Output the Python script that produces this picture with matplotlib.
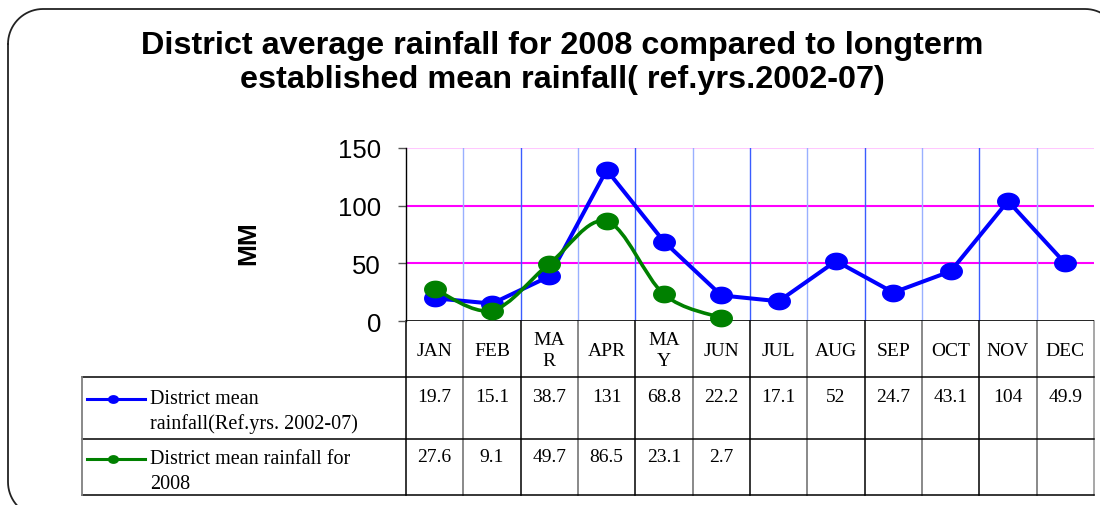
import numpy as np
import matplotlib
matplotlib.use("Agg")
import matplotlib.pyplot as plt
from matplotlib.path import Path
from matplotlib.patches import PathPatch
from matplotlib.transforms import blended_transform_factory
from matplotlib.lines import Line2D

months = ["JAN", "FEB", "MA\nR", "APR", "MA\nY", "JUN", "JUL", "AUG", "SEP", "OCT", "NOV", "DEC"]
ref_mean = [19.7, 15.1, 38.7, 131, 68.8, 22.2, 17.1, 52, 24.7, 43.1, 104, 49.9]
ref_labels = ["19.7", "15.1", "38.7", "131", "68.8", "22.2", "17.1", "52", "24.7", "43.1", "104", "49.9"]
y2008 = [27.6, 9.1, 49.7, 86.5, 23.1, 2.7]
y2008_labels = ["27.6", "9.1", "49.7", "86.5", "23.1", "2.7"]
series_names = ["District mean\nrainfall(Ref.yrs. 2002-07)", "District mean rainfall for\n2008"]
yticks = [0, 50, 100, 150]
title = "District average rainfall for 2008 compared to longterm\nestablished mean rainfall( ref.yrs.2002-07)"

W, H = 1100, 506
fig = plt.figure(figsize=(W / 100, H / 100), dpi=100)

# overlay axes in pixel coordinates
ov = fig.add_axes([0, 0, 1, 1])
ov.set_xlim(0, W)
ov.set_ylim(H, 0)
ov.axis("off")

# main plot axes: x 406..1094, y 149..322 (px)
x0, x1, ytop, ybot = 406, 1094, 149, 322
ax = fig.add_axes([x0 / W, 1 - ybot / H, (x1 - x0) / W, (ybot - ytop) / H])
ax.set_xlim(0, 12)
ax.set_ylim(0, 150)
ax.patch.set_alpha(0)
for s in ["top", "right", "bottom"]:
    ax.spines[s].set_visible(False)
ax.spines["left"].set_color("black")
ax.spines["left"].set_linewidth(1.0)
ax.set_xticks([])
ax.set_yticks(yticks)
ax.set_yticklabels([str(v) for v in yticks], fontfamily="Liberation Sans", fontsize=18.5)
ax.tick_params(axis="y", length=6, width=1, color="#555555", pad=12)

# grid
for v in [50, 100]:
    ax.axhline(v, color="#ff00ff", lw=1.5, zorder=1)
ax.axhline(150, color="#ffc8ff", lw=1.5, zorder=1)
for i in range(1, 12):
    ax.axvline(i, color="#99b0ff" if i % 2 == 1 else "#3a5cff", lw=1.0, zorder=1)
ax.axhline(0, color="black", lw=1.2, zorder=2)

# elliptical marker
t = np.linspace(0, 2 * np.pi, 60)
ell = Path(np.column_stack([np.cos(t), 0.76 * np.sin(t)]), closed=True)

xs = np.arange(len(ref_mean)) + 0.5
ax.plot(xs, ref_mean, color="#0000ff", lw=2.9, marker=ell, ms=15.5, zorder=4, clip_on=False)

# smoothed green line (Bezier, Excel-like)
gx = np.arange(len(y2008)) + 0.5
gy = np.array(y2008, dtype=float)
pts = np.column_stack([gx, gy])
verts = [pts[0]]
codes = [Path.MOVETO]
n = len(pts)
for i in range(n - 1):
    p0 = pts[i - 1] if i > 0 else pts[i]
    p1 = pts[i]
    p2 = pts[i + 1]
    p3 = pts[i + 2] if i + 2 < n else pts[i + 1]
    c1 = p1 + (p2 - p0) / 6.0
    c2 = p2 - (p3 - p1) / 6.0
    verts += [c1, c2, p2]
    codes += [Path.CURVE4] * 3
ax.add_patch(PathPatch(Path(verts, codes), fill=False, edgecolor="#008000", lw=2.6, zorder=5, clip_on=False))
ax.plot(gx, gy, ls="none", color="#008000", marker=ell, ms=15.5, zorder=6, clip_on=False)

# y label
ov.text(248, 243, "MM", rotation=90, ha="center", va="center", fontfamily="Liberation Sans",
        fontweight="bold", fontsize=19)

# title
fig.text(562 / W, 1 - 63 / H, title, ha="center", va="center", fontfamily="Liberation Sans",
         fontweight="bold", fontsize=23.3, linespacing=1.14)

# table
bt = blended_transform_factory(ax.transData, ov.transData)
r0, r1, r2, r3 = 322, 378, 440, 496
left = 82
for i in range(0, 13):
    col = "black" if i % 2 == 0 else "#808080"
    if i == 12:
        col = "#909090"
    ov.add_line(Line2D([i, i], [r0, r3], transform=bt, color=col, lw=1.3 if i % 2 else 1.1))
for y in [r1, r2, r3]:
    ov.plot([left, x1], [y, y], color="black", lw=1.1)
ov.plot([left, left], [r1, r3], color="#808080", lw=1.3)

serif = "Liberation Serif"
for i, m in enumerate(months):
    ov.text(i + 0.5, (r0 + r1) / 2 + 1, m, transform=bt, ha="center", va="center",
            fontfamily=serif, fontsize=14, linespacing=1.3)
for i, s in enumerate(ref_labels):
    ov.text(i + 0.5, 398, s, transform=bt, ha="center", va="center", fontfamily=serif, fontsize=14)
for i, s in enumerate(y2008_labels):
    ov.text(i + 0.5, 458, s, transform=bt, ha="center", va="center", fontfamily=serif, fontsize=14)

# legend keys
for yy, c in [(400, "#0000ff"), (460, "#008000")]:
    ov.plot([87, 145], [yy, yy], color=c, lw=2.2)
    ov.plot([113], [yy], color=c, marker=ell, ms=7)
ov.text(150, 412, series_names[0], ha="left", va="center", fontfamily=serif, fontsize=14.5, linespacing=1.38)
ov.text(150, 472, series_names[1], ha="left", va="center", fontfamily=serif, fontsize=14.5, linespacing=1.38)

# rounded border (drawn as explicit path in pixel coordinates)
bx0, by0, bx1, by1, rad = 8, 10, 1120, 518, 35
ang = np.linspace(0, np.pi / 2, 20)
corner_pts = []
for cx, cy, a0 in [(bx0 + rad, by0 + rad, np.pi), (bx1 - rad, by0 + rad, 1.5 * np.pi),
                   (bx1 - rad, by1 - rad, 0.0), (bx0 + rad, by1 - rad, 0.5 * np.pi)]:
    a = a0 + ang
    corner_pts.append(np.column_stack([cx + rad * np.cos(a), cy + rad * np.sin(a)]))
border = np.vstack(corner_pts + [corner_pts[0][:1]])
ov.plot(border[:, 0], border[:, 1], color="#222222", lw=1.3, clip_on=False)

fig.savefig("out.png", dpi=100)
